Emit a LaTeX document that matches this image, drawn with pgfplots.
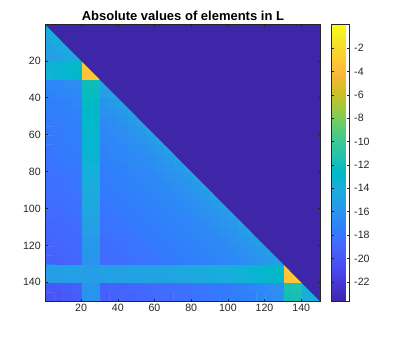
\documentclass[border=0pt]{standalone}
\usepackage{pgfplots}
\pgfplotsset{compat=1.18}
\usepackage{fontspec}
\setmainfont{Liberation Sans}
\definecolor{axgray}{rgb}{0.15,0.15,0.15}
\definecolor{lowend}{rgb}{0.2422,0.1504,0.6603}
\pgfplotsset{colormap={parula}{
rgb=(0.2422,0.1504,0.6603) rgb=(0.2504,0.1650,0.7076) rgb=(0.2578,0.1818,0.7511) rgb=(0.2647,0.1978,0.7952)
rgb=(0.2706,0.2147,0.8364) rgb=(0.2751,0.2342,0.8710) rgb=(0.2783,0.2559,0.8991) rgb=(0.2803,0.2782,0.9221)
rgb=(0.2813,0.3006,0.9414) rgb=(0.2810,0.3228,0.9579) rgb=(0.2795,0.3447,0.9717) rgb=(0.2760,0.3667,0.9829)
rgb=(0.2699,0.3892,0.9906) rgb=(0.2602,0.4123,0.9952) rgb=(0.2440,0.4358,0.9988) rgb=(0.2206,0.4603,0.9973)
rgb=(0.1963,0.4847,0.9892) rgb=(0.1834,0.5074,0.9798) rgb=(0.1786,0.5289,0.9682) rgb=(0.1764,0.5499,0.9520)
rgb=(0.1687,0.5703,0.9359) rgb=(0.1540,0.5902,0.9218) rgb=(0.1460,0.6091,0.9079) rgb=(0.1380,0.6276,0.8973)
rgb=(0.1248,0.6459,0.8883) rgb=(0.1113,0.6635,0.8763) rgb=(0.0952,0.6798,0.8598) rgb=(0.0689,0.6948,0.8394)
rgb=(0.0297,0.7082,0.8163) rgb=(0.0036,0.7203,0.7917) rgb=(0.0067,0.7312,0.7660) rgb=(0.0433,0.7411,0.7394)
rgb=(0.0964,0.7500,0.7120) rgb=(0.1408,0.7584,0.6842) rgb=(0.1717,0.7670,0.6554) rgb=(0.1938,0.7758,0.6251)
rgb=(0.2161,0.7843,0.5923) rgb=(0.2470,0.7918,0.5567) rgb=(0.2906,0.7973,0.5188) rgb=(0.3406,0.8008,0.4789)
rgb=(0.3909,0.8029,0.4354) rgb=(0.4456,0.8024,0.3909) rgb=(0.5044,0.7993,0.3480) rgb=(0.5616,0.7942,0.3045)
rgb=(0.6174,0.7876,0.2612) rgb=(0.6720,0.7793,0.2227) rgb=(0.7242,0.7698,0.1910) rgb=(0.7738,0.7598,0.1646)
rgb=(0.8203,0.7498,0.1535) rgb=(0.8634,0.7406,0.1596) rgb=(0.9035,0.7330,0.1774) rgb=(0.9393,0.7288,0.2100)
rgb=(0.9728,0.7298,0.2394) rgb=(0.9956,0.7434,0.2371) rgb=(0.9970,0.7659,0.2199) rgb=(0.9952,0.7893,0.2028)
rgb=(0.9892,0.8136,0.1885) rgb=(0.9786,0.8386,0.1766) rgb=(0.9676,0.8639,0.1643) rgb=(0.9610,0.8890,0.1537)
rgb=(0.9597,0.9135,0.1423) rgb=(0.9628,0.9373,0.1265) rgb=(0.9691,0.9606,0.1064) rgb=(0.9769,0.9839,0.0805)
}}
\begin{document}
\begin{tikzpicture}[x=1pt,y=1pt]
\useasboundingbox (0,0) rectangle (407,339);
\begin{axis}[
  at={(45.3pt,37.3pt)}, anchor=south west,
  scale only axis, width=275.2pt, height=277pt,
  xmin=0.5, xmax=150.5, ymin=0.5, ymax=150.5, y dir=reverse,
  point meta min=-23.7, point meta max=0,
  colormap name=parula,
  axis on top,
  axis line style={axgray, line width=0.5pt},
  tick style={axgray, line width=0.4pt},
  tick align=inside, major tick length=2.8pt,
  xtick={20,40,...,140}, ytick={20,40,...,140},
  tick label style={font=\fontsize{10.6}{12}\selectfont, text=axgray},
  /pgf/number format/assume math mode=true,
  xticklabel style={yshift=1pt}, yticklabel style={xshift=-1pt},
  title={\textbf{Absolute values of elements in L}},
  title style={font=\fontsize{13}{15}\selectfont, yshift=-5.2pt},
  colorbar,
  colorbar style={
    at={(1.0385,1)}, anchor=north west,
    width=18.6pt,
    ytick={-22,-20,...,-2},
    tick align=inside, major tick length=2.8pt,
    yticklabel pos=right,
    axis line style={axgray, line width=0.5pt},
    tick style={axgray, line width=0.4pt},
    tick label style={font=\fontsize{10.6}{12}\selectfont, text=axgray},
    /pgf/number format/assume math mode=true,
    /pgf/number format/fixed,
    yticklabel style={xshift=1pt},
  },
]
\addplot[matrix plot*, mesh/cols=30, point meta=explicit] table[row sep=\\, x index=0, y index=1, meta index=2, header=false] {
3 3 -13.6\\8 3 -23.7\\13 3 -23.7\\18 3 -23.7\\23 3 -23.7\\28 3 -23.7\\33 3 -23.7\\38 3 -23.7\\43 3 -23.7\\48 3 -23.7\\53 3 -23.7\\58 3 -23.7\\63 3 -23.7\\68 3 -23.7\\73 3 -23.7\\78 3 -23.7\\83 3 -23.7\\88 3 -23.7\\93 3 -23.7\\98 3 -23.7\\103 3 -23.7\\108 3 -23.7\\113 3 -23.7\\118 3 -23.7\\123 3 -23.7\\128 3 -23.7\\133 3 -23.7\\138 3 -23.7\\143 3 -23.7\\148 3 -23.7\\
3 8 -14.2\\8 8 -13.8\\13 8 -23.7\\18 8 -23.7\\23 8 -23.7\\28 8 -23.7\\33 8 -23.7\\38 8 -23.7\\43 8 -23.7\\48 8 -23.7\\53 8 -23.7\\58 8 -23.7\\63 8 -23.7\\68 8 -23.7\\73 8 -23.7\\78 8 -23.7\\83 8 -23.7\\88 8 -23.7\\93 8 -23.7\\98 8 -23.7\\103 8 -23.7\\108 8 -23.7\\113 8 -23.7\\118 8 -23.7\\123 8 -23.7\\128 8 -23.7\\133 8 -23.7\\138 8 -23.7\\143 8 -23.7\\148 8 -23.7\\
3 13 -14.8\\8 13 -14.5\\13 13 -14.0\\18 13 -23.7\\23 13 -23.7\\28 13 -23.7\\33 13 -23.7\\38 13 -23.7\\43 13 -23.7\\48 13 -23.7\\53 13 -23.7\\58 13 -23.7\\63 13 -23.7\\68 13 -23.7\\73 13 -23.7\\78 13 -23.7\\83 13 -23.7\\88 13 -23.7\\93 13 -23.7\\98 13 -23.7\\103 13 -23.7\\108 13 -23.7\\113 13 -23.7\\118 13 -23.7\\123 13 -23.7\\128 13 -23.7\\133 13 -23.7\\138 13 -23.7\\143 13 -23.7\\148 13 -23.7\\
3 18 -15.2\\8 18 -15.0\\13 18 -14.6\\18 18 -14.2\\23 18 -23.7\\28 18 -23.7\\33 18 -23.7\\38 18 -23.7\\43 18 -23.7\\48 18 -23.7\\53 18 -23.7\\58 18 -23.7\\63 18 -23.7\\68 18 -23.7\\73 18 -23.7\\78 18 -23.7\\83 18 -23.7\\88 18 -23.7\\93 18 -23.7\\98 18 -23.7\\103 18 -23.7\\108 18 -23.7\\113 18 -23.7\\118 18 -23.7\\123 18 -23.7\\128 18 -23.7\\133 18 -23.7\\138 18 -23.7\\143 18 -23.7\\148 18 -23.7\\
3 23 -13.4\\8 23 -13.2\\13 23 -12.9\\18 23 -12.5\\23 23 -3.2\\28 23 -23.7\\33 23 -23.7\\38 23 -23.7\\43 23 -23.7\\48 23 -23.7\\53 23 -23.7\\58 23 -23.7\\63 23 -23.7\\68 23 -23.7\\73 23 -23.7\\78 23 -23.7\\83 23 -23.7\\88 23 -23.7\\93 23 -23.7\\98 23 -23.7\\103 23 -23.7\\108 23 -23.7\\113 23 -23.7\\118 23 -23.7\\123 23 -23.7\\128 23 -23.7\\133 23 -23.7\\138 23 -23.7\\143 23 -23.7\\148 23 -23.7\\
3 28 -13.6\\8 28 -13.3\\13 28 -13.1\\18 28 -12.8\\23 28 -3.4\\28 28 -3.0\\33 28 -23.7\\38 28 -23.7\\43 28 -23.7\\48 28 -23.7\\53 28 -23.7\\58 28 -23.7\\63 28 -23.7\\68 28 -23.7\\73 28 -23.7\\78 28 -23.7\\83 28 -23.7\\88 28 -23.7\\93 28 -23.7\\98 28 -23.7\\103 28 -23.7\\108 28 -23.7\\113 28 -23.7\\118 28 -23.7\\123 28 -23.7\\128 28 -23.7\\133 28 -23.7\\138 28 -23.7\\143 28 -23.7\\148 28 -23.7\\
3 33 -17.0\\8 33 -16.9\\13 33 -16.6\\18 33 -16.4\\23 33 -12.0\\28 33 -12.0\\33 33 -14.6\\38 33 -23.7\\43 33 -23.7\\48 33 -23.7\\53 33 -23.7\\58 33 -23.7\\63 33 -23.7\\68 33 -23.7\\73 33 -23.7\\78 33 -23.7\\83 33 -23.7\\88 33 -23.7\\93 33 -23.7\\98 33 -23.7\\103 33 -23.7\\108 33 -23.7\\113 33 -23.7\\118 33 -23.7\\123 33 -23.7\\128 33 -23.7\\133 33 -23.7\\138 33 -23.7\\143 33 -23.7\\148 33 -23.7\\
3 38 -17.2\\8 38 -17.1\\13 38 -16.9\\18 38 -16.7\\23 38 -12.2\\28 38 -12.2\\33 38 -15.3\\38 38 -14.7\\43 38 -23.7\\48 38 -23.7\\53 38 -23.7\\58 38 -23.7\\63 38 -23.7\\68 38 -23.7\\73 38 -23.7\\78 38 -23.7\\83 38 -23.7\\88 38 -23.7\\93 38 -23.7\\98 38 -23.7\\103 38 -23.7\\108 38 -23.7\\113 38 -23.7\\118 38 -23.7\\123 38 -23.7\\128 38 -23.7\\133 38 -23.7\\138 38 -23.7\\143 38 -23.7\\148 38 -23.7\\
3 43 -17.5\\8 43 -17.3\\13 43 -17.2\\18 43 -17.0\\23 43 -12.5\\28 43 -12.5\\33 43 -15.9\\38 43 -15.4\\43 43 -14.8\\48 43 -23.7\\53 43 -23.7\\58 43 -23.7\\63 43 -23.7\\68 43 -23.7\\73 43 -23.7\\78 43 -23.7\\83 43 -23.7\\88 43 -23.7\\93 43 -23.7\\98 43 -23.7\\103 43 -23.7\\108 43 -23.7\\113 43 -23.7\\118 43 -23.7\\123 43 -23.7\\128 43 -23.7\\133 43 -23.7\\138 43 -23.7\\143 43 -23.7\\148 43 -23.7\\
3 48 -17.6\\8 48 -17.4\\13 48 -17.3\\18 48 -17.2\\23 48 -12.7\\28 48 -12.7\\33 48 -16.3\\38 48 -16.0\\43 48 -15.5\\48 48 -14.9\\53 48 -23.7\\58 48 -23.7\\63 48 -23.7\\68 48 -23.7\\73 48 -23.7\\78 48 -23.7\\83 48 -23.7\\88 48 -23.7\\93 48 -23.7\\98 48 -23.7\\103 48 -23.7\\108 48 -23.7\\113 48 -23.7\\118 48 -23.7\\123 48 -23.7\\128 48 -23.7\\133 48 -23.7\\138 48 -23.7\\143 48 -23.7\\148 48 -23.7\\
3 53 -17.7\\8 53 -17.6\\13 53 -17.5\\18 53 -17.3\\23 53 -12.9\\28 53 -12.9\\33 53 -16.6\\38 53 -16.4\\43 53 -16.0\\48 53 -15.5\\53 53 -15.0\\58 53 -23.7\\63 53 -23.7\\68 53 -23.7\\73 53 -23.7\\78 53 -23.7\\83 53 -23.7\\88 53 -23.7\\93 53 -23.7\\98 53 -23.7\\103 53 -23.7\\108 53 -23.7\\113 53 -23.7\\118 53 -23.7\\123 53 -23.7\\128 53 -23.7\\133 53 -23.7\\138 53 -23.7\\143 53 -23.7\\148 53 -23.7\\
3 58 -17.8\\8 58 -17.7\\13 58 -17.5\\18 58 -17.4\\23 58 -13.0\\28 58 -13.0\\33 58 -16.9\\38 58 -16.6\\43 58 -16.4\\48 58 -16.0\\53 58 -15.6\\58 58 -15.0\\63 58 -23.7\\68 58 -23.7\\73 58 -23.7\\78 58 -23.7\\83 58 -23.7\\88 58 -23.7\\93 58 -23.7\\98 58 -23.7\\103 58 -23.7\\108 58 -23.7\\113 58 -23.7\\118 58 -23.7\\123 58 -23.7\\128 58 -23.7\\133 58 -23.7\\138 58 -23.7\\143 58 -23.7\\148 58 -23.7\\
3 63 -17.9\\8 63 -17.8\\13 63 -17.6\\18 63 -17.5\\23 63 -13.1\\28 63 -13.1\\33 63 -17.0\\38 63 -16.9\\43 63 -16.6\\48 63 -16.3\\53 63 -16.0\\58 63 -15.6\\63 63 -15.0\\68 63 -23.7\\73 63 -23.7\\78 63 -23.7\\83 63 -23.7\\88 63 -23.7\\93 63 -23.7\\98 63 -23.7\\103 63 -23.7\\108 63 -23.7\\113 63 -23.7\\118 63 -23.7\\123 63 -23.7\\128 63 -23.7\\133 63 -23.7\\138 63 -23.7\\143 63 -23.7\\148 63 -23.7\\
3 68 -18.0\\8 68 -17.8\\13 68 -17.8\\18 68 -17.6\\23 68 -13.1\\28 68 -13.2\\33 68 -17.2\\38 68 -17.0\\43 68 -16.9\\48 68 -16.6\\53 68 -16.4\\58 68 -16.0\\63 68 -15.6\\68 68 -15.0\\73 68 -23.7\\78 68 -23.7\\83 68 -23.7\\88 68 -23.7\\93 68 -23.7\\98 68 -23.7\\103 68 -23.7\\108 68 -23.7\\113 68 -23.7\\118 68 -23.7\\123 68 -23.7\\128 68 -23.7\\133 68 -23.7\\138 68 -23.7\\143 68 -23.7\\148 68 -23.7\\
3 73 -18.1\\8 73 -18.0\\13 73 -17.8\\18 73 -17.7\\23 73 -13.3\\28 73 -13.3\\33 73 -17.3\\38 73 -17.2\\43 73 -17.0\\48 73 -16.8\\53 73 -16.6\\58 73 -16.4\\63 73 -16.0\\68 73 -15.6\\73 73 -15.0\\78 73 -23.7\\83 73 -23.7\\88 73 -23.7\\93 73 -23.7\\98 73 -23.7\\103 73 -23.7\\108 73 -23.7\\113 73 -23.7\\118 73 -23.7\\123 73 -23.7\\128 73 -23.7\\133 73 -23.7\\138 73 -23.7\\143 73 -23.7\\148 73 -23.7\\
3 78 -18.2\\8 78 -18.0\\13 78 -18.0\\18 78 -17.9\\23 78 -13.6\\28 78 -13.6\\33 78 -17.5\\38 78 -17.3\\43 78 -17.2\\48 78 -17.0\\53 78 -16.8\\58 78 -16.6\\63 78 -16.3\\68 78 -16.0\\73 78 -15.6\\78 78 -15.0\\83 78 -23.7\\88 78 -23.7\\93 78 -23.7\\98 78 -23.7\\103 78 -23.7\\108 78 -23.7\\113 78 -23.7\\118 78 -23.7\\123 78 -23.7\\128 78 -23.7\\133 78 -23.7\\138 78 -23.7\\143 78 -23.7\\148 78 -23.7\\
3 83 -18.3\\8 83 -18.2\\13 83 -18.1\\18 83 -17.9\\23 83 -13.8\\28 83 -13.8\\33 83 -17.6\\38 83 -17.5\\43 83 -17.3\\48 83 -17.1\\53 83 -17.0\\58 83 -16.8\\63 83 -16.6\\68 83 -16.3\\73 83 -16.0\\78 83 -15.6\\83 83 -15.0\\88 83 -23.7\\93 83 -23.7\\98 83 -23.7\\103 83 -23.7\\108 83 -23.7\\113 83 -23.7\\118 83 -23.7\\123 83 -23.7\\128 83 -23.7\\133 83 -23.7\\138 83 -23.7\\143 83 -23.7\\148 83 -23.7\\
3 88 -18.4\\8 88 -18.3\\13 88 -18.2\\18 88 -18.0\\23 88 -14.0\\28 88 -14.0\\33 88 -17.7\\38 88 -17.6\\43 88 -17.4\\48 88 -17.2\\53 88 -17.1\\58 88 -17.0\\63 88 -16.8\\68 88 -16.6\\73 88 -16.3\\78 88 -16.0\\83 88 -15.6\\88 88 -15.0\\93 88 -23.7\\98 88 -23.7\\103 88 -23.7\\108 88 -23.7\\113 88 -23.7\\118 88 -23.7\\123 88 -23.7\\128 88 -23.7\\133 88 -23.7\\138 88 -23.7\\143 88 -23.7\\148 88 -23.7\\
3 93 -18.5\\8 93 -18.4\\13 93 -18.3\\18 93 -18.2\\23 93 -14.2\\28 93 -14.2\\33 93 -17.8\\38 93 -17.7\\43 93 -17.6\\48 93 -17.4\\53 93 -17.2\\58 93 -17.1\\63 93 -17.0\\68 93 -16.8\\73 93 -16.6\\78 93 -16.3\\83 93 -16.0\\88 93 -15.6\\93 93 -15.0\\98 93 -23.7\\103 93 -23.7\\108 93 -23.7\\113 93 -23.7\\118 93 -23.7\\123 93 -23.7\\128 93 -23.7\\133 93 -23.7\\138 93 -23.7\\143 93 -23.7\\148 93 -23.7\\
3 98 -18.6\\8 98 -18.5\\13 98 -18.4\\18 98 -18.3\\23 98 -14.4\\28 98 -14.4\\33 98 -18.0\\38 98 -17.8\\43 98 -17.7\\48 98 -17.5\\53 98 -17.4\\58 98 -17.2\\63 98 -17.1\\68 98 -17.0\\73 98 -16.8\\78 98 -16.6\\83 98 -16.3\\88 98 -16.0\\93 98 -15.6\\98 98 -15.0\\103 98 -23.7\\108 98 -23.7\\113 98 -23.7\\118 98 -23.7\\123 98 -23.7\\128 98 -23.7\\133 98 -23.7\\138 98 -23.7\\143 98 -23.7\\148 98 -23.7\\
3 103 -18.7\\8 103 -18.7\\13 103 -18.5\\18 103 -18.4\\23 103 -14.7\\28 103 -14.7\\33 103 -18.1\\38 103 -18.0\\43 103 -17.8\\48 103 -17.7\\53 103 -17.5\\58 103 -17.4\\63 103 -17.2\\68 103 -17.1\\73 103 -17.0\\78 103 -16.8\\83 103 -16.6\\88 103 -16.3\\93 103 -16.0\\98 103 -15.6\\103 103 -15.0\\108 103 -23.7\\113 103 -23.7\\118 103 -23.7\\123 103 -23.7\\128 103 -23.7\\133 103 -23.7\\138 103 -23.7\\143 103 -23.7\\148 103 -23.7\\
3 108 -18.8\\8 108 -18.8\\13 108 -18.7\\18 108 -18.5\\23 108 -15.0\\28 108 -15.0\\33 108 -18.2\\38 108 -18.1\\43 108 -18.0\\48 108 -17.8\\53 108 -17.7\\58 108 -17.5\\63 108 -17.4\\68 108 -17.2\\73 108 -17.1\\78 108 -17.0\\83 108 -16.8\\88 108 -16.6\\93 108 -16.3\\98 108 -16.0\\103 108 -15.6\\108 108 -15.0\\113 108 -23.7\\118 108 -23.7\\123 108 -23.7\\128 108 -23.7\\133 108 -23.7\\138 108 -23.7\\143 108 -23.7\\148 108 -23.7\\
3 113 -19.0\\8 113 -18.9\\13 113 -18.8\\18 113 -18.7\\23 113 -15.3\\28 113 -15.3\\33 113 -18.4\\38 113 -18.2\\43 113 -18.1\\48 113 -18.0\\53 113 -17.8\\58 113 -17.7\\63 113 -17.5\\68 113 -17.4\\73 113 -17.2\\78 113 -17.1\\83 113 -17.0\\88 113 -16.8\\93 113 -16.6\\98 113 -16.3\\103 113 -16.0\\108 113 -15.6\\113 113 -15.0\\118 113 -23.7\\123 113 -23.7\\128 113 -23.7\\133 113 -23.7\\138 113 -23.7\\143 113 -23.7\\148 113 -23.7\\
3 118 -19.1\\8 118 -19.0\\13 118 -18.9\\18 118 -18.8\\23 118 -15.6\\28 118 -15.6\\33 118 -18.5\\38 118 -18.4\\43 118 -18.2\\48 118 -18.1\\53 118 -18.0\\58 118 -17.8\\63 118 -17.7\\68 118 -17.5\\73 118 -17.4\\78 118 -17.2\\83 118 -17.1\\88 118 -17.0\\93 118 -16.8\\98 118 -16.6\\103 118 -16.3\\108 118 -16.0\\113 118 -15.6\\118 118 -15.0\\123 118 -23.7\\128 118 -23.7\\133 118 -23.7\\138 118 -23.7\\143 118 -23.7\\148 118 -23.7\\
3 123 -19.2\\8 123 -19.2\\13 123 -19.0\\18 123 -18.9\\23 123 -15.8\\28 123 -15.8\\33 123 -18.6\\38 123 -18.5\\43 123 -18.4\\48 123 -18.2\\53 123 -18.1\\58 123 -18.0\\63 123 -17.8\\68 123 -17.7\\73 123 -17.5\\78 123 -17.4\\83 123 -17.2\\88 123 -17.1\\93 123 -17.0\\98 123 -16.8\\103 123 -16.6\\108 123 -16.3\\113 123 -16.0\\118 123 -15.6\\123 123 -15.0\\128 123 -23.7\\133 123 -23.7\\138 123 -23.7\\143 123 -23.7\\148 123 -23.7\\
3 128 -19.3\\8 128 -19.3\\13 128 -19.2\\18 128 -19.0\\23 128 -16.0\\28 128 -16.0\\33 128 -18.7\\38 128 -18.6\\43 128 -18.5\\48 128 -18.4\\53 128 -18.2\\58 128 -18.1\\63 128 -18.0\\68 128 -17.8\\73 128 -17.7\\78 128 -17.5\\83 128 -17.4\\88 128 -17.2\\93 128 -17.1\\98 128 -17.0\\103 128 -16.8\\108 128 -16.6\\113 128 -16.3\\118 128 -16.0\\123 128 -15.6\\128 128 -15.0\\133 128 -23.7\\138 128 -23.7\\143 128 -23.7\\148 128 -23.7\\
3 133 -15.1\\8 133 -15.1\\13 133 -15.0\\18 133 -15.0\\23 133 -15.2\\28 133 -15.2\\33 133 -15.0\\38 133 -15.0\\43 133 -14.9\\48 133 -14.9\\53 133 -14.8\\58 133 -14.7\\63 133 -14.6\\68 133 -14.6\\73 133 -14.4\\78 133 -14.3\\83 133 -14.2\\88 133 -14.1\\93 133 -14.0\\98 133 -13.8\\103 133 -13.7\\108 133 -13.5\\113 133 -13.3\\118 133 -13.1\\123 133 -12.8\\128 133 -12.5\\133 133 -3.2\\138 133 -23.7\\143 133 -23.7\\148 133 -23.7\\
3 138 -15.3\\8 138 -15.2\\13 138 -15.2\\18 138 -15.1\\23 138 -15.3\\28 138 -15.3\\33 138 -15.1\\38 138 -15.1\\43 138 -15.0\\48 138 -15.0\\53 138 -14.9\\58 138 -14.8\\63 138 -14.8\\68 138 -14.7\\73 138 -14.6\\78 138 -14.5\\83 138 -14.4\\88 138 -14.2\\93 138 -14.1\\98 138 -14.0\\103 138 -13.8\\108 138 -13.6\\113 138 -13.4\\118 138 -13.2\\123 138 -13.0\\128 138 -12.8\\133 138 -3.4\\138 138 -3.0\\143 138 -23.7\\148 138 -23.7\\
3 143 -19.9\\8 143 -19.8\\13 143 -19.6\\18 143 -19.4\\23 143 -15.9\\28 143 -15.9\\33 143 -19.3\\38 143 -19.2\\43 143 -19.1\\48 143 -18.9\\53 143 -18.8\\58 143 -18.7\\63 143 -18.6\\68 143 -18.5\\73 143 -18.4\\78 143 -18.2\\83 143 -18.1\\88 143 -18.0\\93 143 -17.8\\98 143 -17.7\\103 143 -17.5\\108 143 -17.3\\113 143 -17.1\\118 143 -16.8\\123 143 -16.5\\128 143 -16.2\\133 143 -11.6\\138 143 -11.5\\143 143 -13.6\\148 143 -23.7\\
3 148 -20.1\\8 148 -20.0\\13 148 -19.8\\18 148 -19.6\\23 148 -15.9\\28 148 -15.9\\33 148 -19.5\\38 148 -19.4\\43 148 -19.2\\48 148 -19.1\\53 148 -19.0\\58 148 -18.9\\63 148 -18.7\\68 148 -18.6\\73 148 -18.5\\78 148 -18.4\\83 148 -18.2\\88 148 -18.1\\93 148 -18.0\\98 148 -17.8\\103 148 -17.6\\108 148 -17.5\\113 148 -17.3\\118 148 -17.0\\123 148 -16.7\\128 148 -16.4\\133 148 -11.8\\138 148 -11.7\\143 148 -14.0\\148 148 -13.5\\
};
\addplot[draw=none, fill=lowend] coordinates {(0.5,0.5) (150.5,0.5) (150.5,150.5)} -- cycle;
\end{axis}
\end{tikzpicture}
\end{document}
